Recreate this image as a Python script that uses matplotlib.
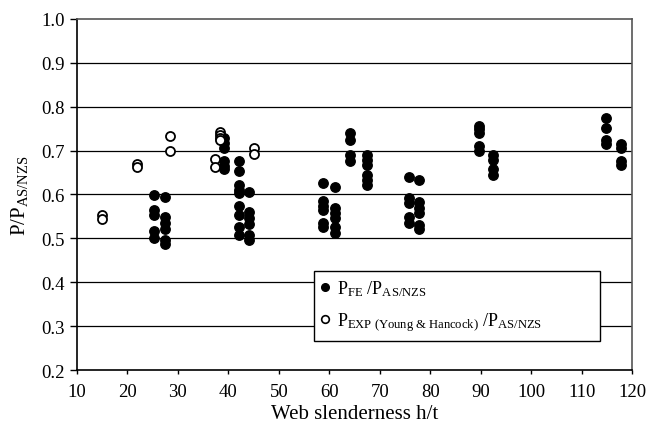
import matplotlib
matplotlib.use('Agg')
import matplotlib.pyplot as plt
from matplotlib.lines import Line2D
from matplotlib.mathtext import MathTextParser

plt.rcParams['font.family'] = 'Liberation Serif'
plt.rcParams['mathtext.fontset'] = 'custom'
plt.rcParams['mathtext.rm'] = 'Liberation Serif'
plt.rcParams['mathtext.it'] = 'Liberation Serif:italic'

# P_FE / P_AS/NZS (filled circles), grouped by web slenderness column
fe_h = [25.2, 27.4, 39.1, 42.1, 44.1, 58.8, 61.1, 64.1, 67.4, 75.8, 77.7, 89.7, 92.5, 114.8, 117.7]
fe_ratio = [
    [0.598, 0.565, 0.554, 0.516, 0.500],
    [0.594, 0.548, 0.535, 0.521, 0.497, 0.487],
    [0.729, 0.718, 0.706, 0.676, 0.664, 0.657],
    [0.676, 0.653, 0.622, 0.611, 0.603, 0.573, 0.554, 0.527, 0.508],
    [0.605, 0.561, 0.546, 0.532, 0.508, 0.497],
    [0.625, 0.584, 0.573, 0.565, 0.535, 0.525],
    [0.616, 0.569, 0.557, 0.546, 0.525, 0.512],
    [0.741, 0.725, 0.689, 0.676],
    [0.691, 0.679, 0.668, 0.645, 0.634, 0.622],
    [0.640, 0.592, 0.580, 0.548, 0.535],
    [0.632, 0.583, 0.569, 0.557, 0.531, 0.521],
    [0.757, 0.748, 0.741, 0.710, 0.699],
    [0.691, 0.679, 0.657, 0.644],
    [0.775, 0.752, 0.723, 0.714],
    [0.714, 0.705, 0.676, 0.666],
]

# P_EXP (Young & Hancock) / P_AS/NZS (open circles)
exp_h = [15.0, 21.8, 28.4, 37.3, 38.3, 45.1]
exp_ratio = [
    [0.554, 0.545],
    [0.670, 0.662],
    [0.734, 0.699],
    [0.681, 0.662],
    [0.742, 0.735, 0.729, 0.724],
    [0.705, 0.693],
]

# pick an ampersand spelling the mathtext parser accepts
exp_label = None
for amp in [r'\&', '&', r'\ampersand']:
    s = r'P$_{\mathrm{EXP\ (Young\ ' + amp + r'\ Hancock)}}$ /P$_{\mathrm{AS/NZS}}$'
    try:
        MathTextParser('path').parse(s)
        exp_label = s
        break
    except Exception:
        pass
if exp_label is None:
    exp_label = r'P$_{\mathrm{EXP\ (Young\ and\ Hancock)}}$ /P$_{\mathrm{AS/NZS}}$'

fig = plt.figure(figsize=(6.47, 4.31), dpi=100)
ax = fig.add_axes([0.119, 0.139, 0.858, 0.815])

for h, vals in zip(fe_h, fe_ratio):
    ax.plot([h] * len(vals), vals, 'o', color='black', ms=6.8, mec='black', zorder=3)
for h, vals in zip(exp_h, exp_ratio):
    ax.plot([h] * len(vals), vals, 'o', mfc='white', mec='black', ms=6.5, mew=1.3, zorder=3)

ax.set_xlim(10, 120)
ax.set_ylim(0.2, 1.0)
ax.set_xticks(range(10, 121, 10))
ax.set_yticks([0.2, 0.3, 0.4, 0.5, 0.6, 0.7, 0.8, 0.9, 1.0])
ax.set_yticklabels(['0.2', '0.3', '0.4', '0.5', '0.6', '0.7', '0.8', '0.9', '1.0'])
for yv in [0.3, 0.4, 0.5, 0.6, 0.7, 0.8, 0.9]:
    ax.axhline(yv, color='black', lw=0.9, zorder=1)

for s in ['left', 'bottom']:
    ax.spines[s].set_linewidth(1.2)
    ax.spines[s].set_color('black')
for s in ['top', 'right']:
    ax.spines[s].set_linewidth(1.2)
    ax.spines[s].set_color('#555555')

ax.tick_params(axis='both', direction='out', length=5, width=1, labelsize=13.5, colors='black')
ax.tick_params(axis='x', length=3, pad=6)
ax.tick_params(axis='y', pad=4)

ax.set_xlabel('Web slenderness h/t', fontsize=15, labelpad=3)
ax.set_ylabel(r'P/P$_{\mathrm{AS/NZS}}$', fontsize=15, labelpad=8)

handles = [
    Line2D([], [], ls='none', marker='o', color='black', ms=5.5),
    Line2D([], [], ls='none', marker='o', mfc='white', mec='black', ms=5.5, mew=1.2),
]
labels = [
    r'P$_{\mathrm{FE}}$ /P$_{\mathrm{AS/NZS}}$',
    exp_label,
]
leg = ax.legend(handles, labels, loc='lower left', bbox_to_anchor=(0.4265, 0.084, 0.516, 0.196),
                mode='expand', fontsize=13, frameon=True, fancybox=False, borderpad=0.4,
                handlelength=0.4, handletextpad=0.5, labelspacing=0.75, borderaxespad=0)
leg.get_frame().set_edgecolor('black')
leg.get_frame().set_linewidth(1.0)
leg.get_frame().set_alpha(1)
leg.set_zorder(5)

fig.savefig('out.png', dpi=100)
